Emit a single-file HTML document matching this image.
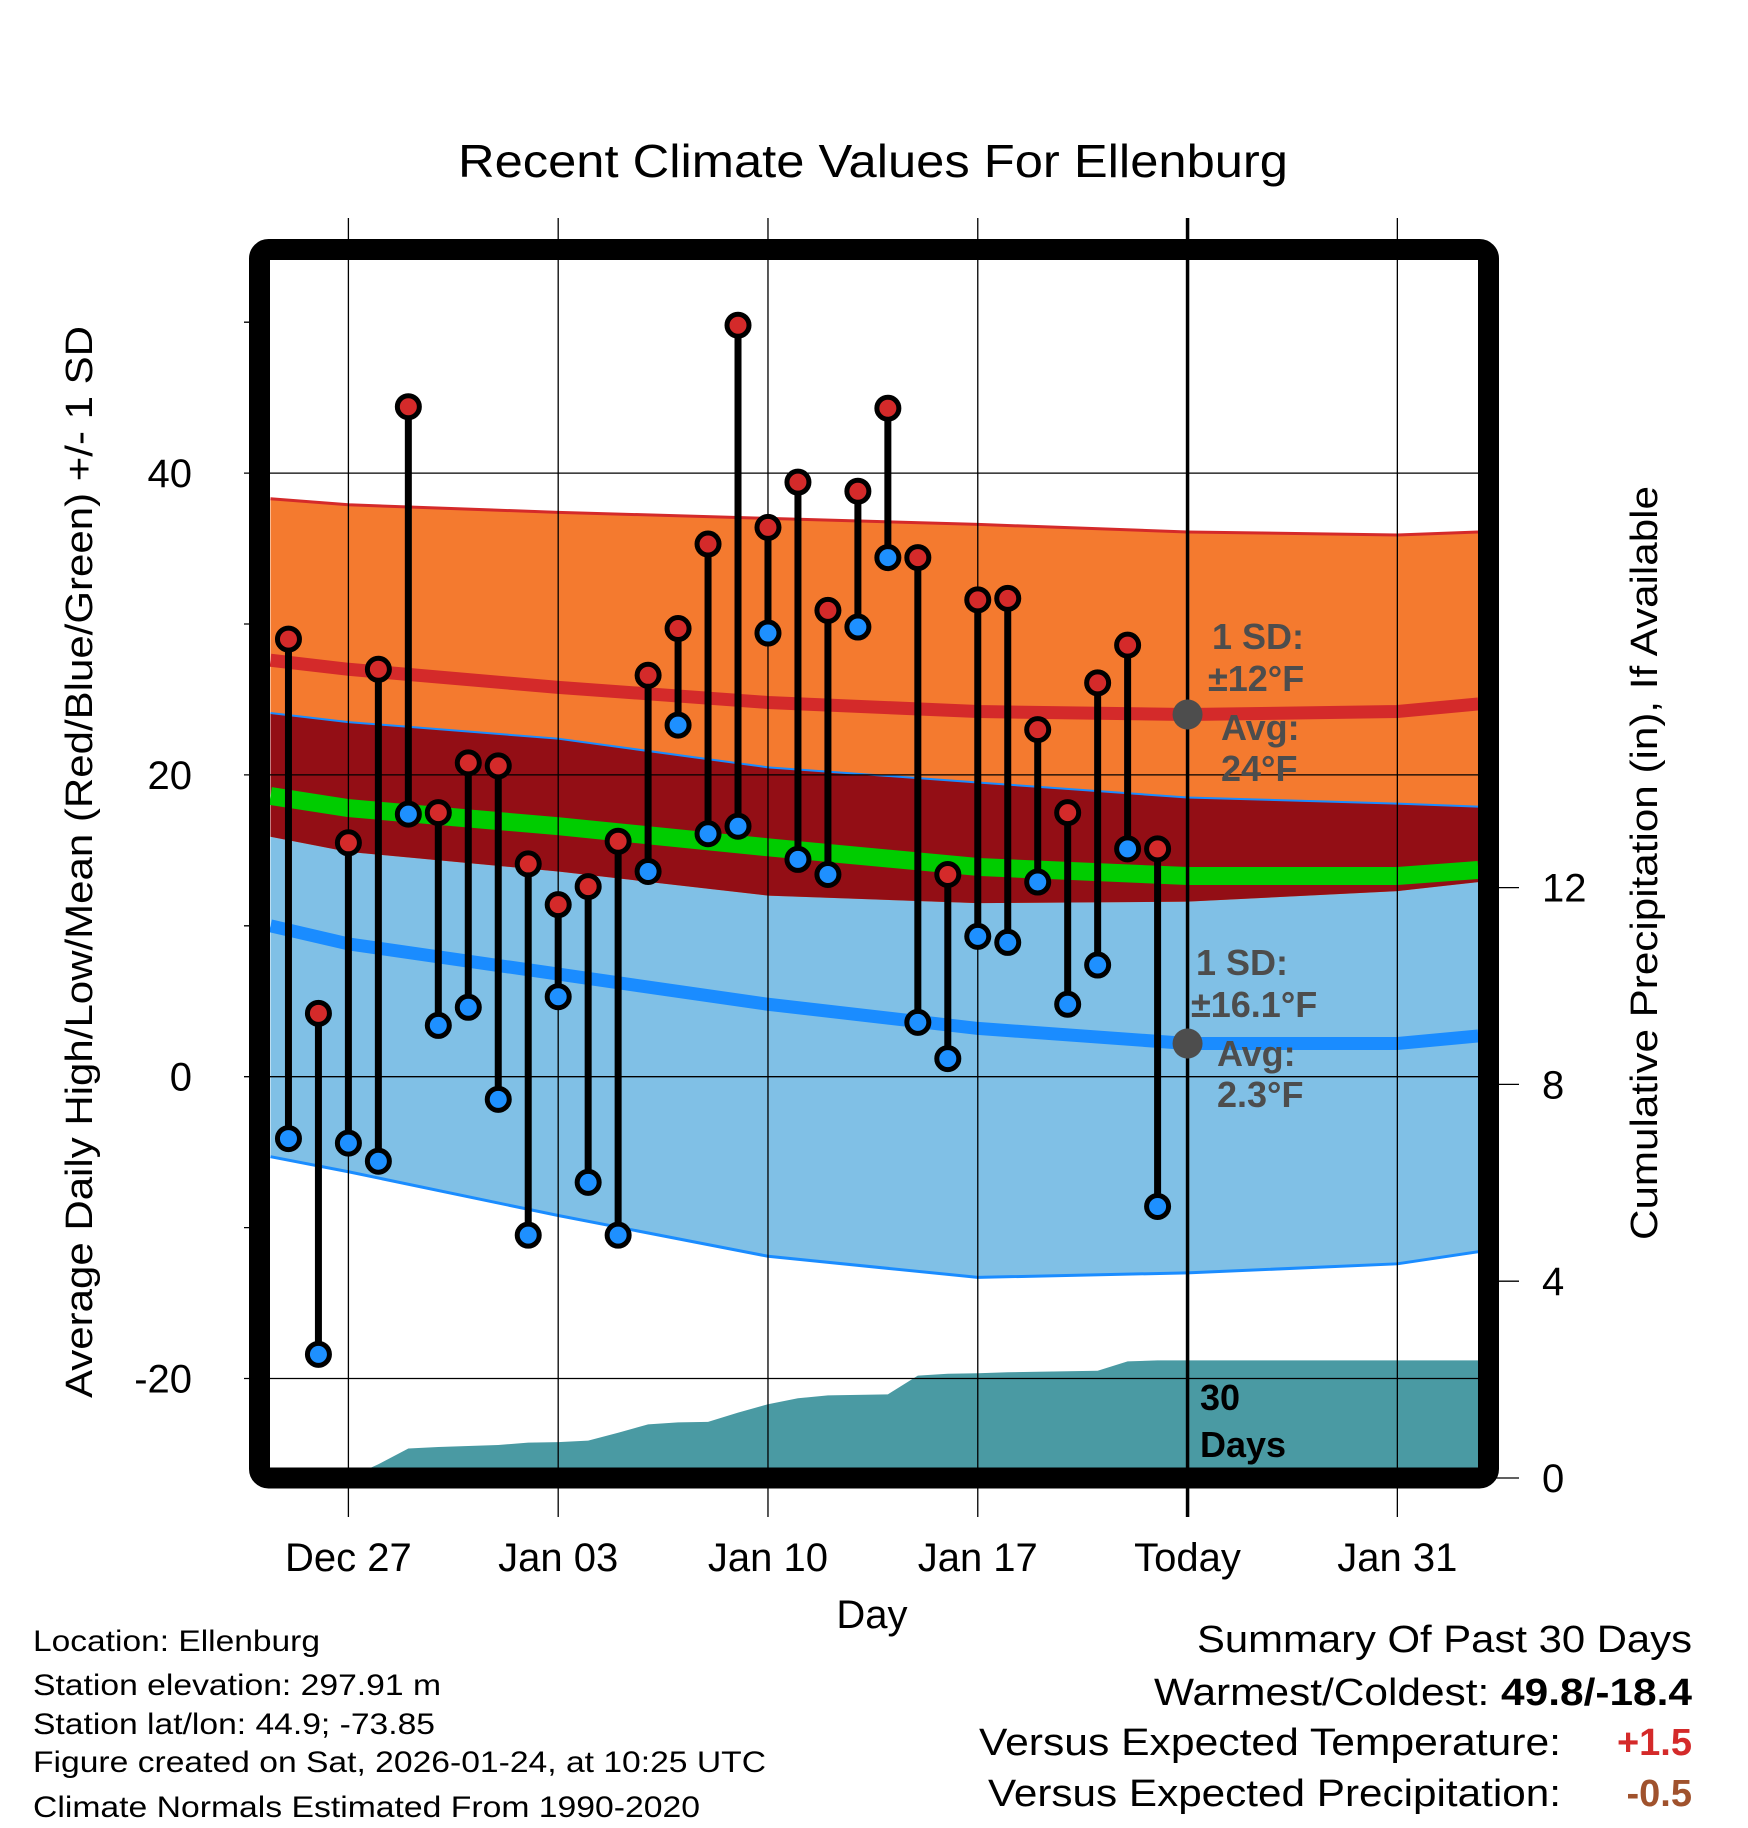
<!DOCTYPE html>
<html><head><meta charset="utf-8"><style>
html,body{margin:0;padding:0;background:#fff;}
svg{display:block;font-family:"Liberation Sans",sans-serif;}
</style></head><body>
<svg id="chart" width="1748" height="1828" viewBox="0 0 1748 1828" xmlns="http://www.w3.org/2000/svg">
<defs><clipPath id="plotclip"><rect x="270" y="260" width="1208" height="1208"/></clipPath></defs>
<text x="873" y="177" font-size="46" text-anchor="middle" textLength="830" lengthAdjust="spacingAndGlyphs">Recent Climate Values For Ellenburg</text>
<g id="plot" clip-path="url(#plotclip)"></g>
<g id="overlay"></g>
<rect x="259.5" y="249.5" width="1229" height="1228.5" rx="9" fill="none" stroke="#000" stroke-width="21"/>
<g id="axes"></g>
<text x="872" y="1628" font-size="40" text-anchor="middle">Day</text>
<text transform="translate(92,862) rotate(-90)" font-size="38" text-anchor="middle" textLength="1072" lengthAdjust="spacingAndGlyphs">Average Daily High/Low/Mean (Red/Blue/Green) +/- 1 SD</text>
<text transform="translate(1657,863) rotate(-90)" font-size="38" text-anchor="middle" textLength="754" lengthAdjust="spacingAndGlyphs">Cumulative Precipitation (in), If Available</text>
<g font-size="30">
<text x="33" y="1651" textLength="287" lengthAdjust="spacingAndGlyphs">Location: Ellenburg</text>
<text x="33" y="1695" textLength="408" lengthAdjust="spacingAndGlyphs">Station elevation: 297.91 m</text>
<text x="33" y="1734" textLength="402" lengthAdjust="spacingAndGlyphs">Station lat/lon: 44.9; -73.85</text>
<text x="33" y="1772" textLength="733" lengthAdjust="spacingAndGlyphs">Figure created on Sat, 2026-01-24, at 10:25 UTC</text>
<text x="33" y="1817" textLength="667" lengthAdjust="spacingAndGlyphs">Climate Normals Estimated From 1990-2020</text>
</g>
<g font-size="38">
<text x="1692" y="1652" text-anchor="end" textLength="495" lengthAdjust="spacingAndGlyphs">Summary Of Past 30 Days</text>
<text x="1692" y="1705" text-anchor="end" textLength="538" lengthAdjust="spacingAndGlyphs">Warmest/Coldest: <tspan font-weight="bold">49.8/-18.4</tspan></text>
<text x="1561" y="1755" text-anchor="end" textLength="582" lengthAdjust="spacingAndGlyphs">Versus Expected Temperature:</text>
<text x="1692" y="1755" text-anchor="end" font-weight="bold" fill="#d42a2a">+1.5</text>
<text x="1561" y="1806" text-anchor="end" textLength="573" lengthAdjust="spacingAndGlyphs">Versus Expected Precipitation:</text>
<text x="1692" y="1806" text-anchor="end" font-weight="bold" fill="#a0522d">-0.5</text>
</g>
</svg>
<script>
// Observed daily data (day index 0 = Dec 27)
const obsDays = [-2,-1,0,1,2,3,4,5,6,7,8,9,10,11,12,13,14,15,16,17,18,19,20,21,22,23,24,25,26,27];
const highs = [29.0,4.2,15.5,27.0,44.4,17.5,20.8,20.6,14.1,11.4,12.6,15.6,26.6,29.7,35.3,49.8,36.4,39.4,30.9,38.8,44.3,34.4,13.4,31.6,31.7,23.0,17.5,26.1,28.6,15.1];
const lows = [-4.1,-18.4,-4.4,-5.6,17.4,3.4,4.6,-1.5,-10.5,5.3,-7.0,-10.5,13.6,23.3,16.1,16.6,29.4,14.4,13.4,29.8,34.4,3.6,1.2,9.3,8.9,12.9,4.8,7.4,15.1,-8.6];
const precipCum = [0,0,0,0.28,0.6,0.63,0.65,0.67,0.72,0.73,0.76,0.92,1.09,1.13,1.14,1.33,1.5,1.62,1.68,1.69,1.7,2.08,2.12,2.13,2.15,2.16,2.17,2.18,2.37,2.39];
// Climate normals
const normDays = [-2.6,0,7,14,21,28,35,37.7];
const hiUp = [38.3,37.9,37.4,37.0,36.6,36.1,35.9,36.1];
const hiMean = [27.6,27.0,25.8,24.8,24.2,24.0,24.2,24.7];
const hiLow = [15.9,14.9,13.6,12.0,11.5,11.6,12.3,12.9];
const avgMean = [18.6,17.8,16.6,15.2,13.9,13.3,13.3,13.7];
const loUp = [24.1,23.5,22.4,20.5,19.5,18.5,18.1,17.9];
const loMean = [10.0,8.8,6.8,4.8,3.2,2.2,2.2,2.7];
const loLow = [-5.3,-6.3,-9.2,-11.9,-13.3,-13.0,-12.4,-11.6];
// Axis ticks
const xTickDays = [0,7,14,21,28,35];
const xTickLabels = ["Dec 27","Jan 03","Jan 10","Jan 17","Today","Jan 31"];
const yMajorTicks = [40,20,0,-20];
const yMinorTicks = [50,30,10,-10];
const y2Ticks = [0,4,8,12];
const todayDay = 28;

const NS = "http://www.w3.org/2000/svg";
const xS = d => 348.4 + 29.97 * d;
const yS = t => 1076.7 - 15.09 * t;
const pS = p => 1478 - 49.2 * p;
const plot = document.getElementById('plot');
const axes = document.getElementById('axes');
const overlay = document.getElementById('overlay');
function mk(tag, attrs, parent) {
  const e = document.createElementNS(NS, tag);
  for (const k in attrs) e.setAttribute(k, attrs[k]);
  parent.appendChild(e);
  return e;
}
function band(top, bot) {
  let pts = normDays.map((d,i) => xS(d)+','+yS(top[i]));
  pts = pts.concat(normDays.map((d,i) => xS(d)+','+yS(bot[i])).reverse());
  return pts.join(' ');
}
function line(arr) { return normDays.map((d,i) => xS(d)+','+yS(arr[i])).join(' '); }

let e;
e = mk('polygon', {points: band(loUp, loLow), fill: '#80c0e6'}, plot);


e = mk('polygon', {points: band(hiUp, hiLow), fill: '#f47a2f'}, plot);


e = mk('polygon', {points: band(loUp, hiLow), fill: '#930e15'}, plot);


e = mk('polyline', {points: line(hiUp), fill: 'none', stroke: '#d42a2a', 'stroke-width': 3}, plot);


e = mk('polyline', {points: line(loUp), fill: 'none', stroke: '#1a8cff', 'stroke-width': 2}, plot);


e = mk('polyline', {points: line(loLow), fill: 'none', stroke: '#1a8cff', 'stroke-width': 3}, plot);


e = mk('polyline', {points: line(avgMean), fill: 'none', stroke: '#00cc00', 'stroke-width': 18}, plot);


e = mk('polyline', {points: line(hiMean), fill: 'none', stroke: '#d42a2a', 'stroke-width': 13}, plot);


e = mk('polyline', {points: line(loMean), fill: 'none', stroke: '#1a8cff', 'stroke-width': 13}, plot);



// precipitation area
let pp = [xS(obsDays[0])+',1480'];
obsDays.forEach((d,i) => pp.push(xS(d)+','+pS(precipCum[i])));
pp.push('1480,'+pS(precipCum[precipCum.length-1]));
pp.push('1480,1480');
e = mk('polygon', {points: pp.join(' '), fill: '#4a9aa3'}, plot);



// grid
yMajorTicks.forEach(t => {
  e = mk('line', {x1: 244, x2: 1478, y1: yS(t), y2: yS(t), stroke: '#000', 'stroke-width': 1.3}, overlay);
  
  
  e = mk('text', {x: 192, y: yS(t)+14, 'font-size': 40, 'text-anchor': 'end'}, axes);
  e.textContent = t;
  
  
});
yMinorTicks.forEach(t => {
  e = mk('line', {x1: 244, x2: 262, y1: yS(t), y2: yS(t), stroke: '#000', 'stroke-width': 1.3}, axes);
  
  
});
y2Ticks.forEach(p => {
  e = mk('line', {x1: 1488, x2: 1519, y1: pS(p), y2: pS(p), stroke: '#000', 'stroke-width': 1.3}, axes);
  
  
  e = mk('text', {x: 1542, y: pS(p)+14, 'font-size': 40}, axes);
  e.textContent = p;
  
  
});
xTickDays.forEach((d,i) => {
  const isToday = d === todayDay;
  e = mk('line', {x1: xS(d), x2: xS(d), y1: 218, y2: 1517, stroke: '#000', 'stroke-width': isToday ? 3.5 : 1.3}, overlay);
  
  
  e = mk('text', {x: xS(d), y: 1571, 'font-size': 40, 'text-anchor': 'middle'}, axes);
  e.textContent = xTickLabels[i];
  
  
});

// today markers
e = mk('circle', {cx: xS(todayDay), cy: yS(hiMean[5]), r: 15, fill: '#4d4d4d'}, overlay);


e = mk('circle', {cx: xS(todayDay), cy: yS(loMean[5]), r: 15, fill: '#4d4d4d'}, overlay);



// annotations
const ann = [["1 SD:",1212,649],["±12°F",1208,691],["Avg:",1221,740],["24°F",1221,781],
             ["1 SD:",1196,975],["±16.1°F",1191,1017],["Avg:",1217,1066],["2.3°F",1217,1107]];
ann.forEach(a => {
  e = mk('text', {x: a[1], y: a[2], 'font-size': 36, 'font-weight': 'bold', fill: '#4d4d4d'}, overlay);
  e.textContent = a[0];
  
  
});
[["30",1410],["Days",1457]].forEach(a => {
  e = mk('text', {x: 1200, y: a[1], 'font-size': 36, 'font-weight': 'bold', fill: '#000'}, overlay);
  e.textContent = a[0];
  
  
});

// observations
obsDays.forEach((d,i) => {
  e = mk('line', {x1: xS(d), x2: xS(d), y1: yS(highs[i]), y2: yS(lows[i]), stroke: '#000', 'stroke-width': 7}, overlay);
  
  
});
obsDays.forEach((d,i) => {
  e = mk('circle', {cx: xS(d), cy: yS(highs[i]), r: 11, fill: '#d42a2a', stroke: '#000', 'stroke-width': 5}, overlay);
  
  
  e = mk('circle', {cx: xS(d), cy: yS(lows[i]), r: 11, fill: '#1e90ff', stroke: '#000', 'stroke-width': 5}, overlay);
  
  
});
</script>
</body></html>
